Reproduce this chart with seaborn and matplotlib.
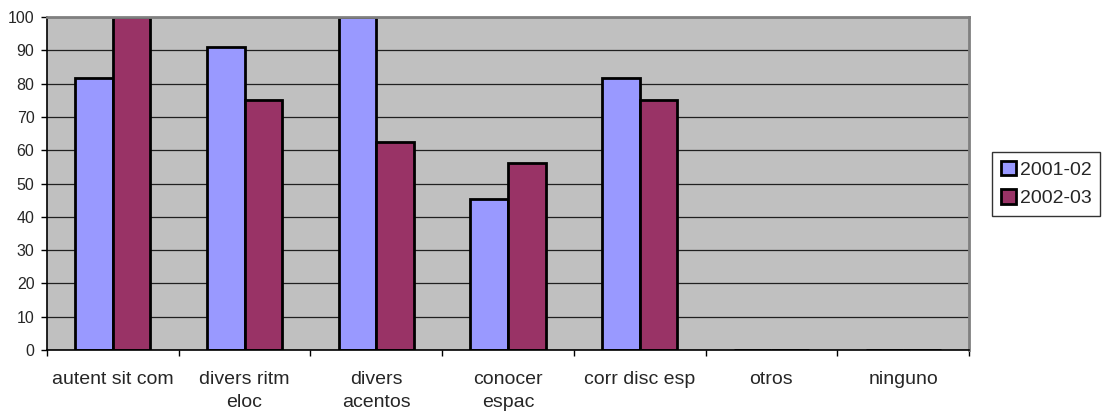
import pandas as pd
import seaborn as sns
import matplotlib.pyplot as plt
from matplotlib.ticker import FixedLocator

categorias = ['autent sit com', 'divers ritm\neloc', 'divers\nacentos', 'conocer\nespac',
              'corr disc esp', 'otros', 'ninguno']
cursos = ['2001-02', '2002-03']
valores_2001 = [81.8, 90.9, 100, 45.45, 81.8, 0, 0]
valores_2002 = [100, 75, 62.5, 56.25, 75, 0, 0]
colores = ['#9999FF', '#993366']
y_ticks = list(range(0, 101, 10))

df = pd.DataFrame({
    'categoria': categorias * 2,
    'curso': [cursos[0]] * len(categorias) + [cursos[1]] * len(categorias),
    'valor': valores_2001 + valores_2002,
})

sns.set_style('white')
plt.rcParams['font.family'] = ['Liberation Sans', 'DejaVu Sans']

fig = plt.figure(figsize=(11.02, 4.19), dpi=100)
ax = fig.add_axes([0.0426, 0.1647, 0.8367, 0.7947])
ax.set_facecolor('#C0C0C0')

sns.barplot(data=df, x='categoria', y='valor', hue='curso', palette=colores,
            width=0.57, edgecolor='black', linewidth=2, saturation=1, ax=ax)

handles, labels = ax.get_legend_handles_labels()
ax.get_legend().remove()

ax.set_xlim(-0.5, len(categorias) - 0.5)
ax.set_ylim(0, 100)
ax.set_yticks(y_ticks)
ax.yaxis.grid(True, color='#202020', linewidth=0.9)
ax.set_axisbelow(True)
ax.set_xlabel('')
ax.set_ylabel('')

ax.set_xticks(range(len(categorias)))
ax.set_xticklabels(categorias, fontsize=14, linespacing=1.5, va='top')
ax.xaxis.set_minor_locator(FixedLocator([i - 0.5 for i in range(len(categorias) + 1)]))
ax.tick_params(axis='x', which='major', length=0, pad=15)
ax.tick_params(axis='x', which='minor', length=4, width=1, color='black', direction='out')
ax.tick_params(axis='y', labelsize=11.5, length=4, width=1, color='black', direction='out', pad=5)
ax.tick_params(bottom=True, left=True, which='both')

for lado in ['left', 'bottom']:
    ax.spines[lado].set_color('black')
    ax.spines[lado].set_linewidth(1.2)
for lado in ['top', 'right']:
    ax.spines[lado].set_color('#808080')
    ax.spines[lado].set_linewidth(2)

leg = fig.legend(handles, labels, loc='center left', bbox_to_anchor=(0.9005, 0.561),
                 fontsize=14, frameon=True, fancybox=False, edgecolor='black',
                 handlelength=0.75, handleheight=0.75, handletextpad=0.2,
                 labelspacing=0.55, borderpad=0.45, borderaxespad=0)
leg.get_frame().set_linewidth(1)
for h in leg.legend_handles:
    h.set_edgecolor('black')
    h.set_linewidth(2)

fig.savefig('out.png', dpi=100)
